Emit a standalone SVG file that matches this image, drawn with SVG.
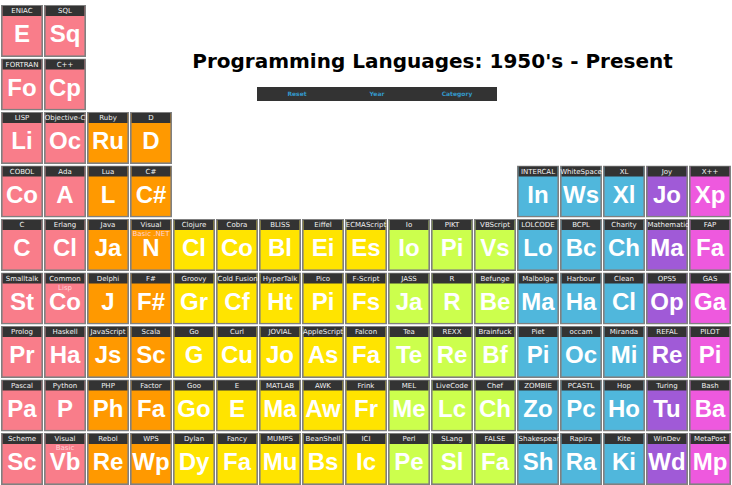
<svg xmlns="http://www.w3.org/2000/svg" width="732" height="485" viewBox="0 0 732 485">
<style>
.bg{fill:#ffffff}
.b{stroke:#808080;stroke-width:1.6}
.h{fill:#333333}
.n{font-family:"DejaVu Sans",Verdana,sans-serif;font-size:7px;fill:#f2f2f2;text-anchor:middle}
.nl{text-anchor:start}
.sub{font-family:"DejaVu Sans",Verdana,sans-serif;font-size:7px;fill:#ffd3d8;text-anchor:middle}
.s{font-family:"Liberation Sans",Arial,sans-serif;font-weight:bold;font-size:24px;fill:#ffffff;text-anchor:middle}
.pk{fill:#f97d8a}.or{fill:#ff9900}.ye{fill:#ffe400}.li{fill:#ccff4d}.bl{fill:#50b7dc}.pu{fill:#a05ad7}.mg{fill:#ee59de}
.title{font-family:"DejaVu Sans",Verdana,sans-serif;font-weight:bold;font-size:20px;fill:#000;text-anchor:middle}
.btn{font-family:"DejaVu Sans",Verdana,sans-serif;font-weight:bold;font-size:6px;fill:#3399cc;text-anchor:middle}
</style>
<defs>
<clipPath id="cc"><rect x="0" y="0" width="42" height="52"/></clipPath>
</defs>
<rect class="bg" x="0" y="0" width="732" height="485"/>
<g id="title"><text class="title" x="432.5" y="67.5">Programming Languages: 1950's - Present</text></g>
<g id="menu">
<rect x="257" y="87" width="240" height="14" fill="#333333"/>
<text class="btn" x="297" y="96">Reset</text>
<text class="btn" x="377" y="96">Year</text>
<text class="btn" x="457" y="96">Category</text>
</g>
<g id="connectors"></g>
<!-- row 0 -->
<g id="eniac" transform="translate(1,5)" clip-path="url(#cc)"><rect class="b pk" x="0.8" y="0.8" width="40.4" height="50.4"/><rect class="h" x="1.6" y="1" width="38.8" height="10"/><text class="n" x="21" y="8">ENIAC</text><text class="s" x="21" y="37">E</text></g>
<g id="sql" transform="translate(44,5)" clip-path="url(#cc)"><rect class="b pk" x="0.8" y="0.8" width="40.4" height="50.4"/><rect class="h" x="1.6" y="1" width="38.8" height="10"/><text class="n" x="21" y="8">SQL</text><text class="s" x="21" y="37">Sq</text></g>
<!-- row 1 -->
<g id="fortran" transform="translate(1,58.5)" clip-path="url(#cc)"><rect class="b pk" x="0.8" y="0.8" width="40.4" height="50.4"/><rect class="h" x="1.6" y="1" width="38.8" height="10"/><text class="n" x="21" y="8">FORTRAN</text><text class="s" x="21" y="37">Fo</text></g>
<g id="cpp" transform="translate(44,58.5)" clip-path="url(#cc)"><rect class="b pk" x="0.8" y="0.8" width="40.4" height="50.4"/><rect class="h" x="1.6" y="1" width="38.8" height="10"/><text class="n" x="21" y="8">C++</text><text class="s" x="21" y="37">Cp</text></g>
<!-- row 2 -->
<g id="lisp" transform="translate(1,112)" clip-path="url(#cc)"><rect class="b pk" x="0.8" y="0.8" width="40.4" height="50.4"/><rect class="h" x="1.6" y="1" width="38.8" height="10"/><text class="n" x="21" y="8">LISP</text><text class="s" x="21" y="37">Li</text></g>
<g id="objc" transform="translate(44,112)" clip-path="url(#cc)"><rect class="b pk" x="0.8" y="0.8" width="40.4" height="50.4"/><rect class="h" x="1.6" y="1" width="38.8" height="10"/><text class="n" x="21" y="8">Objective-C</text><text class="s" x="21" y="37">Oc</text></g>
<g id="ruby" transform="translate(87,112)" clip-path="url(#cc)"><rect class="b or" x="0.8" y="0.8" width="40.4" height="50.4"/><rect class="h" x="1.6" y="1" width="38.8" height="10"/><text class="n" x="21" y="8">Ruby</text><text class="s" x="21" y="37">Ru</text></g>
<g id="d" transform="translate(130,112)" clip-path="url(#cc)"><rect class="b or" x="0.8" y="0.8" width="40.4" height="50.4"/><rect class="h" x="1.6" y="1" width="38.8" height="10"/><text class="n" x="21" y="8">D</text><text class="s" x="21" y="37">D</text></g>
<!-- row 3 -->
<g id="cobol" transform="translate(1,165.5)" clip-path="url(#cc)"><rect class="b pk" x="0.8" y="0.8" width="40.4" height="50.4"/><rect class="h" x="1.6" y="1" width="38.8" height="10"/><text class="n" x="21" y="8">COBOL</text><text class="s" x="21" y="37">Co</text></g>
<g id="ada" transform="translate(44,165.5)" clip-path="url(#cc)"><rect class="b pk" x="0.8" y="0.8" width="40.4" height="50.4"/><rect class="h" x="1.6" y="1" width="38.8" height="10"/><text class="n" x="21" y="8">Ada</text><text class="s" x="21" y="37">A</text></g>
<g id="lua" transform="translate(87,165.5)" clip-path="url(#cc)"><rect class="b or" x="0.8" y="0.8" width="40.4" height="50.4"/><rect class="h" x="1.6" y="1" width="38.8" height="10"/><text class="n" x="21" y="8">Lua</text><text class="s" x="21" y="37">L</text></g>
<g id="csharp" transform="translate(130,165.5)" clip-path="url(#cc)"><rect class="b or" x="0.8" y="0.8" width="40.4" height="50.4"/><rect class="h" x="1.6" y="1" width="38.8" height="10"/><text class="n" x="21" y="8">C#</text><text class="s" x="21" y="37">C#</text></g>
<g id="intercal" transform="translate(517,165.5)" clip-path="url(#cc)"><rect class="b bl" x="0.8" y="0.8" width="40.4" height="50.4"/><rect class="h" x="1.6" y="1" width="38.8" height="10"/><text class="n" x="21" y="8">INTERCAL</text><text class="s" x="21" y="37">In</text></g>
<g id="whitespace" transform="translate(560,165.5)" clip-path="url(#cc)"><rect class="b bl" x="0.8" y="0.8" width="40.4" height="50.4"/><rect class="h" x="1.6" y="1" width="38.8" height="10"/><text class="n" x="21" y="8">WhiteSpace</text><text class="s" x="21" y="37">Ws</text></g>
<g id="xl" transform="translate(603,165.5)" clip-path="url(#cc)"><rect class="b bl" x="0.8" y="0.8" width="40.4" height="50.4"/><rect class="h" x="1.6" y="1" width="38.8" height="10"/><text class="n" x="21" y="8">XL</text><text class="s" x="21" y="37">Xl</text></g>
<g id="joy" transform="translate(646,165.5)" clip-path="url(#cc)"><rect class="b pu" x="0.8" y="0.8" width="40.4" height="50.4"/><rect class="h" x="1.6" y="1" width="38.8" height="10"/><text class="n" x="21" y="8">Joy</text><text class="s" x="21" y="37">Jo</text></g>
<g id="xpp" transform="translate(689,165.5)" clip-path="url(#cc)"><rect class="b mg" x="0.8" y="0.8" width="40.4" height="50.4"/><rect class="h" x="1.6" y="1" width="38.8" height="10"/><text class="n" x="21" y="8">X++</text><text class="s" x="21" y="37">Xp</text></g>
<!-- row 4 -->
<g id="c" transform="translate(1,219)" clip-path="url(#cc)"><rect class="b pk" x="0.8" y="0.8" width="40.4" height="50.4"/><rect class="h" x="1.6" y="1" width="38.8" height="10"/><text class="n" x="21" y="8">C</text><text class="s" x="21" y="37">C</text></g>
<g id="erlang" transform="translate(44,219)" clip-path="url(#cc)"><rect class="b pk" x="0.8" y="0.8" width="40.4" height="50.4"/><rect class="h" x="1.6" y="1" width="38.8" height="10"/><text class="n" x="21" y="8">Erlang</text><text class="s" x="21" y="37">Cl</text></g>
<g id="java" transform="translate(87,219)" clip-path="url(#cc)"><rect class="b or" x="0.8" y="0.8" width="40.4" height="50.4"/><rect class="h" x="1.6" y="1" width="38.8" height="10"/><text class="n" x="21" y="8">Java</text><text class="s" x="21" y="37">Ja</text></g>
<g id="vbnet" transform="translate(130,219)" clip-path="url(#cc)"><rect class="b or" x="0.8" y="0.8" width="40.4" height="50.4"/><rect class="h" x="1.6" y="1" width="38.8" height="10"/><text class="n" x="21" y="8">Visual</text><text class="sub" x="21" y="17">Basic .NET</text><text class="s" x="21" y="37">N</text></g>
<g id="clojure" transform="translate(173,219)" clip-path="url(#cc)"><rect class="b ye" x="0.8" y="0.8" width="40.4" height="50.4"/><rect class="h" x="1.6" y="1" width="38.8" height="10"/><text class="n" x="21" y="8">Clojure</text><text class="s" x="21" y="37">Cl</text></g>
<g id="cobra" transform="translate(216,219)" clip-path="url(#cc)"><rect class="b ye" x="0.8" y="0.8" width="40.4" height="50.4"/><rect class="h" x="1.6" y="1" width="38.8" height="10"/><text class="n" x="21" y="8">Cobra</text><text class="s" x="21" y="37">Co</text></g>
<g id="bliss" transform="translate(259,219)" clip-path="url(#cc)"><rect class="b ye" x="0.8" y="0.8" width="40.4" height="50.4"/><rect class="h" x="1.6" y="1" width="38.8" height="10"/><text class="n" x="21" y="8">BLISS</text><text class="s" x="21" y="37">Bl</text></g>
<g id="eiffel" transform="translate(302,219)" clip-path="url(#cc)"><rect class="b ye" x="0.8" y="0.8" width="40.4" height="50.4"/><rect class="h" x="1.6" y="1" width="38.8" height="10"/><text class="n" x="21" y="8">Eiffel</text><text class="s" x="21" y="37">Ei</text></g>
<g id="ecmascript" transform="translate(345,219)" clip-path="url(#cc)"><rect class="b ye" x="0.8" y="0.8" width="40.4" height="50.4"/><rect class="h" x="1.6" y="1" width="38.8" height="10"/><text class="n" x="21" y="8">ECMAScript</text><text class="s" x="21" y="37">Es</text></g>
<g id="io" transform="translate(388,219)" clip-path="url(#cc)"><rect class="b li" x="0.8" y="0.8" width="40.4" height="50.4"/><rect class="h" x="1.6" y="1" width="38.8" height="10"/><text class="n" x="21" y="8">Io</text><text class="s" x="21" y="37">Io</text></g>
<g id="pikt" transform="translate(431,219)" clip-path="url(#cc)"><rect class="b li" x="0.8" y="0.8" width="40.4" height="50.4"/><rect class="h" x="1.6" y="1" width="38.8" height="10"/><text class="n" x="21" y="8">PIKT</text><text class="s" x="21" y="37">Pi</text></g>
<g id="vbscript" transform="translate(474,219)" clip-path="url(#cc)"><rect class="b li" x="0.8" y="0.8" width="40.4" height="50.4"/><rect class="h" x="1.6" y="1" width="38.8" height="10"/><text class="n" x="21" y="8">VBScript</text><text class="s" x="21" y="37">Vs</text></g>
<g id="lolcode" transform="translate(517,219)" clip-path="url(#cc)"><rect class="b bl" x="0.8" y="0.8" width="40.4" height="50.4"/><rect class="h" x="1.6" y="1" width="38.8" height="10"/><text class="n" x="21" y="8">LOLCODE</text><text class="s" x="21" y="37">Lo</text></g>
<g id="bcpl" transform="translate(560,219)" clip-path="url(#cc)"><rect class="b bl" x="0.8" y="0.8" width="40.4" height="50.4"/><rect class="h" x="1.6" y="1" width="38.8" height="10"/><text class="n" x="21" y="8">BCPL</text><text class="s" x="21" y="37">Bc</text></g>
<g id="charity" transform="translate(603,219)" clip-path="url(#cc)"><rect class="b bl" x="0.8" y="0.8" width="40.4" height="50.4"/><rect class="h" x="1.6" y="1" width="38.8" height="10"/><text class="n" x="21" y="8">Charity</text><text class="s" x="21" y="37">Ch</text></g>
<g id="mathematica" transform="translate(646,219)" clip-path="url(#cc)"><rect class="b pu" x="0.8" y="0.8" width="40.4" height="50.4"/><rect class="h" x="1.6" y="1" width="38.8" height="10"/><text class="n nl" x="1.5" y="8">Mathematica</text><text class="s" x="21" y="37">Ma</text></g>
<g id="fap" transform="translate(689,219)" clip-path="url(#cc)"><rect class="b mg" x="0.8" y="0.8" width="40.4" height="50.4"/><rect class="h" x="1.6" y="1" width="38.8" height="10"/><text class="n" x="21" y="8">FAP</text><text class="s" x="21" y="37">Fa</text></g>
<!-- row 5 -->
<g id="smalltalk" transform="translate(1,272.5)" clip-path="url(#cc)"><rect class="b pk" x="0.8" y="0.8" width="40.4" height="50.4"/><rect class="h" x="1.6" y="1" width="38.8" height="10"/><text class="n" x="21" y="8">Smalltalk</text><text class="s" x="21" y="37">St</text></g>
<g id="commonlisp" transform="translate(44,272.5)" clip-path="url(#cc)"><rect class="b pk" x="0.8" y="0.8" width="40.4" height="50.4"/><rect class="h" x="1.6" y="1" width="38.8" height="10"/><text class="n" x="21" y="8">Common</text><text class="sub" x="21" y="17">Lisp</text><text class="s" x="21" y="37">Co</text></g>
<g id="delphi" transform="translate(87,272.5)" clip-path="url(#cc)"><rect class="b or" x="0.8" y="0.8" width="40.4" height="50.4"/><rect class="h" x="1.6" y="1" width="38.8" height="10"/><text class="n" x="21" y="8">Delphi</text><text class="s" x="21" y="37">J</text></g>
<g id="fsharp" transform="translate(130,272.5)" clip-path="url(#cc)"><rect class="b or" x="0.8" y="0.8" width="40.4" height="50.4"/><rect class="h" x="1.6" y="1" width="38.8" height="10"/><text class="n" x="21" y="8">F#</text><text class="s" x="21" y="37">F#</text></g>
<g id="groovy" transform="translate(173,272.5)" clip-path="url(#cc)"><rect class="b ye" x="0.8" y="0.8" width="40.4" height="50.4"/><rect class="h" x="1.6" y="1" width="38.8" height="10"/><text class="n" x="21" y="8">Groovy</text><text class="s" x="21" y="37">Gr</text></g>
<g id="coldfusion" transform="translate(216,272.5)" clip-path="url(#cc)"><rect class="b ye" x="0.8" y="0.8" width="40.4" height="50.4"/><rect class="h" x="1.6" y="1" width="38.8" height="10"/><text class="n nl" x="1.5" y="8">Cold Fusion</text><text class="s" x="21" y="37">Cf</text></g>
<g id="hypertalk" transform="translate(259,272.5)" clip-path="url(#cc)"><rect class="b ye" x="0.8" y="0.8" width="40.4" height="50.4"/><rect class="h" x="1.6" y="1" width="38.8" height="10"/><text class="n" x="21" y="8">HyperTalk</text><text class="s" x="21" y="37">Ht</text></g>
<g id="pico" transform="translate(302,272.5)" clip-path="url(#cc)"><rect class="b ye" x="0.8" y="0.8" width="40.4" height="50.4"/><rect class="h" x="1.6" y="1" width="38.8" height="10"/><text class="n" x="21" y="8">Pico</text><text class="s" x="21" y="37">Pi</text></g>
<g id="fscript" transform="translate(345,272.5)" clip-path="url(#cc)"><rect class="b ye" x="0.8" y="0.8" width="40.4" height="50.4"/><rect class="h" x="1.6" y="1" width="38.8" height="10"/><text class="n" x="21" y="8">F-Script</text><text class="s" x="21" y="37">Fs</text></g>
<g id="jass" transform="translate(388,272.5)" clip-path="url(#cc)"><rect class="b li" x="0.8" y="0.8" width="40.4" height="50.4"/><rect class="h" x="1.6" y="1" width="38.8" height="10"/><text class="n" x="21" y="8">JASS</text><text class="s" x="21" y="37">Ja</text></g>
<g id="r" transform="translate(431,272.5)" clip-path="url(#cc)"><rect class="b li" x="0.8" y="0.8" width="40.4" height="50.4"/><rect class="h" x="1.6" y="1" width="38.8" height="10"/><text class="n" x="21" y="8">R</text><text class="s" x="21" y="37">R</text></g>
<g id="befunge" transform="translate(474,272.5)" clip-path="url(#cc)"><rect class="b li" x="0.8" y="0.8" width="40.4" height="50.4"/><rect class="h" x="1.6" y="1" width="38.8" height="10"/><text class="n" x="21" y="8">Befunge</text><text class="s" x="21" y="37">Be</text></g>
<g id="malbolge" transform="translate(517,272.5)" clip-path="url(#cc)"><rect class="b bl" x="0.8" y="0.8" width="40.4" height="50.4"/><rect class="h" x="1.6" y="1" width="38.8" height="10"/><text class="n" x="21" y="8">Malbolge</text><text class="s" x="21" y="37">Ma</text></g>
<g id="harbour" transform="translate(560,272.5)" clip-path="url(#cc)"><rect class="b bl" x="0.8" y="0.8" width="40.4" height="50.4"/><rect class="h" x="1.6" y="1" width="38.8" height="10"/><text class="n" x="21" y="8">Harbour</text><text class="s" x="21" y="37">Ha</text></g>
<g id="clean" transform="translate(603,272.5)" clip-path="url(#cc)"><rect class="b bl" x="0.8" y="0.8" width="40.4" height="50.4"/><rect class="h" x="1.6" y="1" width="38.8" height="10"/><text class="n" x="21" y="8">Clean</text><text class="s" x="21" y="37">Cl</text></g>
<g id="ops5" transform="translate(646,272.5)" clip-path="url(#cc)"><rect class="b pu" x="0.8" y="0.8" width="40.4" height="50.4"/><rect class="h" x="1.6" y="1" width="38.8" height="10"/><text class="n" x="21" y="8">OPS5</text><text class="s" x="21" y="37">Op</text></g>
<g id="gas" transform="translate(689,272.5)" clip-path="url(#cc)"><rect class="b mg" x="0.8" y="0.8" width="40.4" height="50.4"/><rect class="h" x="1.6" y="1" width="38.8" height="10"/><text class="n" x="21" y="8">GAS</text><text class="s" x="21" y="37">Ga</text></g>
<!-- row 6 -->
<g id="prolog" transform="translate(1,326)" clip-path="url(#cc)"><rect class="b pk" x="0.8" y="0.8" width="40.4" height="50.4"/><rect class="h" x="1.6" y="1" width="38.8" height="10"/><text class="n" x="21" y="8">Prolog</text><text class="s" x="21" y="37">Pr</text></g>
<g id="haskell" transform="translate(44,326)" clip-path="url(#cc)"><rect class="b pk" x="0.8" y="0.8" width="40.4" height="50.4"/><rect class="h" x="1.6" y="1" width="38.8" height="10"/><text class="n" x="21" y="8">Haskell</text><text class="s" x="21" y="37">Ha</text></g>
<g id="javascript" transform="translate(87,326)" clip-path="url(#cc)"><rect class="b or" x="0.8" y="0.8" width="40.4" height="50.4"/><rect class="h" x="1.6" y="1" width="38.8" height="10"/><text class="n" x="21" y="8">JavaScript</text><text class="s" x="21" y="37">Js</text></g>
<g id="scala" transform="translate(130,326)" clip-path="url(#cc)"><rect class="b or" x="0.8" y="0.8" width="40.4" height="50.4"/><rect class="h" x="1.6" y="1" width="38.8" height="10"/><text class="n" x="21" y="8">Scala</text><text class="s" x="21" y="37">Sc</text></g>
<g id="go" transform="translate(173,326)" clip-path="url(#cc)"><rect class="b ye" x="0.8" y="0.8" width="40.4" height="50.4"/><rect class="h" x="1.6" y="1" width="38.8" height="10"/><text class="n" x="21" y="8">Go</text><text class="s" x="21" y="37">G</text></g>
<g id="curl" transform="translate(216,326)" clip-path="url(#cc)"><rect class="b ye" x="0.8" y="0.8" width="40.4" height="50.4"/><rect class="h" x="1.6" y="1" width="38.8" height="10"/><text class="n" x="21" y="8">Curl</text><text class="s" x="21" y="37">Cu</text></g>
<g id="jovial" transform="translate(259,326)" clip-path="url(#cc)"><rect class="b ye" x="0.8" y="0.8" width="40.4" height="50.4"/><rect class="h" x="1.6" y="1" width="38.8" height="10"/><text class="n" x="21" y="8">JOVIAL</text><text class="s" x="21" y="37">Jo</text></g>
<g id="applescript" transform="translate(302,326)" clip-path="url(#cc)"><rect class="b ye" x="0.8" y="0.8" width="40.4" height="50.4"/><rect class="h" x="1.6" y="1" width="38.8" height="10"/><text class="n" x="21" y="8">AppleScript</text><text class="s" x="21" y="37">As</text></g>
<g id="falcon" transform="translate(345,326)" clip-path="url(#cc)"><rect class="b ye" x="0.8" y="0.8" width="40.4" height="50.4"/><rect class="h" x="1.6" y="1" width="38.8" height="10"/><text class="n" x="21" y="8">Falcon</text><text class="s" x="21" y="37">Fa</text></g>
<g id="tea" transform="translate(388,326)" clip-path="url(#cc)"><rect class="b li" x="0.8" y="0.8" width="40.4" height="50.4"/><rect class="h" x="1.6" y="1" width="38.8" height="10"/><text class="n" x="21" y="8">Tea</text><text class="s" x="21" y="37">Te</text></g>
<g id="rexx" transform="translate(431,326)" clip-path="url(#cc)"><rect class="b li" x="0.8" y="0.8" width="40.4" height="50.4"/><rect class="h" x="1.6" y="1" width="38.8" height="10"/><text class="n" x="21" y="8">REXX</text><text class="s" x="21" y="37">Re</text></g>
<g id="brainfuck" transform="translate(474,326)" clip-path="url(#cc)"><rect class="b li" x="0.8" y="0.8" width="40.4" height="50.4"/><rect class="h" x="1.6" y="1" width="38.8" height="10"/><text class="n" x="21" y="8">Brainfuck</text><text class="s" x="21" y="37">Bf</text></g>
<g id="piet" transform="translate(517,326)" clip-path="url(#cc)"><rect class="b bl" x="0.8" y="0.8" width="40.4" height="50.4"/><rect class="h" x="1.6" y="1" width="38.8" height="10"/><text class="n" x="21" y="8">Piet</text><text class="s" x="21" y="37">Pi</text></g>
<g id="occam" transform="translate(560,326)" clip-path="url(#cc)"><rect class="b bl" x="0.8" y="0.8" width="40.4" height="50.4"/><rect class="h" x="1.6" y="1" width="38.8" height="10"/><text class="n" x="21" y="8">occam</text><text class="s" x="21" y="37">Oc</text></g>
<g id="miranda" transform="translate(603,326)" clip-path="url(#cc)"><rect class="b bl" x="0.8" y="0.8" width="40.4" height="50.4"/><rect class="h" x="1.6" y="1" width="38.8" height="10"/><text class="n" x="21" y="8">Miranda</text><text class="s" x="21" y="37">Mi</text></g>
<g id="refal" transform="translate(646,326)" clip-path="url(#cc)"><rect class="b pu" x="0.8" y="0.8" width="40.4" height="50.4"/><rect class="h" x="1.6" y="1" width="38.8" height="10"/><text class="n" x="21" y="8">REFAL</text><text class="s" x="21" y="37">Re</text></g>
<g id="pilot" transform="translate(689,326)" clip-path="url(#cc)"><rect class="b mg" x="0.8" y="0.8" width="40.4" height="50.4"/><rect class="h" x="1.6" y="1" width="38.8" height="10"/><text class="n" x="21" y="8">PILOT</text><text class="s" x="21" y="37">Pi</text></g>
<!-- row 7 -->
<g id="pascal" transform="translate(1,379.5)" clip-path="url(#cc)"><rect class="b pk" x="0.8" y="0.8" width="40.4" height="50.4"/><rect class="h" x="1.6" y="1" width="38.8" height="10"/><text class="n" x="21" y="8">Pascal</text><text class="s" x="21" y="37">Pa</text></g>
<g id="python" transform="translate(44,379.5)" clip-path="url(#cc)"><rect class="b pk" x="0.8" y="0.8" width="40.4" height="50.4"/><rect class="h" x="1.6" y="1" width="38.8" height="10"/><text class="n" x="21" y="8">Python</text><text class="s" x="21" y="37">P</text></g>
<g id="php" transform="translate(87,379.5)" clip-path="url(#cc)"><rect class="b or" x="0.8" y="0.8" width="40.4" height="50.4"/><rect class="h" x="1.6" y="1" width="38.8" height="10"/><text class="n" x="21" y="8">PHP</text><text class="s" x="21" y="37">Ph</text></g>
<g id="factor" transform="translate(130,379.5)" clip-path="url(#cc)"><rect class="b or" x="0.8" y="0.8" width="40.4" height="50.4"/><rect class="h" x="1.6" y="1" width="38.8" height="10"/><text class="n" x="21" y="8">Factor</text><text class="s" x="21" y="37">Fa</text></g>
<g id="goo" transform="translate(173,379.5)" clip-path="url(#cc)"><rect class="b ye" x="0.8" y="0.8" width="40.4" height="50.4"/><rect class="h" x="1.6" y="1" width="38.8" height="10"/><text class="n" x="21" y="8">Goo</text><text class="s" x="21" y="37">Go</text></g>
<g id="e" transform="translate(216,379.5)" clip-path="url(#cc)"><rect class="b ye" x="0.8" y="0.8" width="40.4" height="50.4"/><rect class="h" x="1.6" y="1" width="38.8" height="10"/><text class="n" x="21" y="8">E</text><text class="s" x="21" y="37">E</text></g>
<g id="matlab" transform="translate(259,379.5)" clip-path="url(#cc)"><rect class="b ye" x="0.8" y="0.8" width="40.4" height="50.4"/><rect class="h" x="1.6" y="1" width="38.8" height="10"/><text class="n" x="21" y="8">MATLAB</text><text class="s" x="21" y="37">Ma</text></g>
<g id="awk" transform="translate(302,379.5)" clip-path="url(#cc)"><rect class="b ye" x="0.8" y="0.8" width="40.4" height="50.4"/><rect class="h" x="1.6" y="1" width="38.8" height="10"/><text class="n" x="21" y="8">AWK</text><text class="s" x="21" y="37">Aw</text></g>
<g id="frink" transform="translate(345,379.5)" clip-path="url(#cc)"><rect class="b ye" x="0.8" y="0.8" width="40.4" height="50.4"/><rect class="h" x="1.6" y="1" width="38.8" height="10"/><text class="n" x="21" y="8">Frink</text><text class="s" x="21" y="37">Fr</text></g>
<g id="mel" transform="translate(388,379.5)" clip-path="url(#cc)"><rect class="b li" x="0.8" y="0.8" width="40.4" height="50.4"/><rect class="h" x="1.6" y="1" width="38.8" height="10"/><text class="n" x="21" y="8">MEL</text><text class="s" x="21" y="37">Me</text></g>
<g id="livecode" transform="translate(431,379.5)" clip-path="url(#cc)"><rect class="b li" x="0.8" y="0.8" width="40.4" height="50.4"/><rect class="h" x="1.6" y="1" width="38.8" height="10"/><text class="n" x="21" y="8">LiveCode</text><text class="s" x="21" y="37">Lc</text></g>
<g id="chef" transform="translate(474,379.5)" clip-path="url(#cc)"><rect class="b li" x="0.8" y="0.8" width="40.4" height="50.4"/><rect class="h" x="1.6" y="1" width="38.8" height="10"/><text class="n" x="21" y="8">Chef</text><text class="s" x="21" y="37">Ch</text></g>
<g id="zombie" transform="translate(517,379.5)" clip-path="url(#cc)"><rect class="b bl" x="0.8" y="0.8" width="40.4" height="50.4"/><rect class="h" x="1.6" y="1" width="38.8" height="10"/><text class="n" x="21" y="8">ZOMBIE</text><text class="s" x="21" y="37">Zo</text></g>
<g id="pcastl" transform="translate(560,379.5)" clip-path="url(#cc)"><rect class="b bl" x="0.8" y="0.8" width="40.4" height="50.4"/><rect class="h" x="1.6" y="1" width="38.8" height="10"/><text class="n" x="21" y="8">PCASTL</text><text class="s" x="21" y="37">Pc</text></g>
<g id="hop" transform="translate(603,379.5)" clip-path="url(#cc)"><rect class="b bl" x="0.8" y="0.8" width="40.4" height="50.4"/><rect class="h" x="1.6" y="1" width="38.8" height="10"/><text class="n" x="21" y="8">Hop</text><text class="s" x="21" y="37">Ho</text></g>
<g id="turing" transform="translate(646,379.5)" clip-path="url(#cc)"><rect class="b pu" x="0.8" y="0.8" width="40.4" height="50.4"/><rect class="h" x="1.6" y="1" width="38.8" height="10"/><text class="n" x="21" y="8">Turing</text><text class="s" x="21" y="37">Tu</text></g>
<g id="bash" transform="translate(689,379.5)" clip-path="url(#cc)"><rect class="b mg" x="0.8" y="0.8" width="40.4" height="50.4"/><rect class="h" x="1.6" y="1" width="38.8" height="10"/><text class="n" x="21" y="8">Bash</text><text class="s" x="21" y="37">Ba</text></g>
<!-- row 8 -->
<g id="scheme" transform="translate(1,433)" clip-path="url(#cc)"><rect class="b pk" x="0.8" y="0.8" width="40.4" height="50.4"/><rect class="h" x="1.6" y="1" width="38.8" height="10"/><text class="n" x="21" y="8">Scheme</text><text class="s" x="21" y="37">Sc</text></g>
<g id="visualbasic" transform="translate(44,433)" clip-path="url(#cc)"><rect class="b pk" x="0.8" y="0.8" width="40.4" height="50.4"/><rect class="h" x="1.6" y="1" width="38.8" height="10"/><text class="n" x="21" y="8">Visual</text><text class="sub" x="21" y="17">Basic</text><text class="s" x="21" y="37">Vb</text></g>
<g id="rebol" transform="translate(87,433)" clip-path="url(#cc)"><rect class="b or" x="0.8" y="0.8" width="40.4" height="50.4"/><rect class="h" x="1.6" y="1" width="38.8" height="10"/><text class="n" x="21" y="8">Rebol</text><text class="s" x="21" y="37">Re</text></g>
<g id="wps" transform="translate(130,433)" clip-path="url(#cc)"><rect class="b or" x="0.8" y="0.8" width="40.4" height="50.4"/><rect class="h" x="1.6" y="1" width="38.8" height="10"/><text class="n" x="21" y="8">WPS</text><text class="s" x="21" y="37">Wp</text></g>
<g id="dylan" transform="translate(173,433)" clip-path="url(#cc)"><rect class="b ye" x="0.8" y="0.8" width="40.4" height="50.4"/><rect class="h" x="1.6" y="1" width="38.8" height="10"/><text class="n" x="21" y="8">Dylan</text><text class="s" x="21" y="37">Dy</text></g>
<g id="fancy" transform="translate(216,433)" clip-path="url(#cc)"><rect class="b ye" x="0.8" y="0.8" width="40.4" height="50.4"/><rect class="h" x="1.6" y="1" width="38.8" height="10"/><text class="n" x="21" y="8">Fancy</text><text class="s" x="21" y="37">Fa</text></g>
<g id="mumps" transform="translate(259,433)" clip-path="url(#cc)"><rect class="b ye" x="0.8" y="0.8" width="40.4" height="50.4"/><rect class="h" x="1.6" y="1" width="38.8" height="10"/><text class="n" x="21" y="8">MUMPS</text><text class="s" x="21" y="37">Mu</text></g>
<g id="beanshell" transform="translate(302,433)" clip-path="url(#cc)"><rect class="b ye" x="0.8" y="0.8" width="40.4" height="50.4"/><rect class="h" x="1.6" y="1" width="38.8" height="10"/><text class="n" x="21" y="8">BeanShell</text><text class="s" x="21" y="37">Bs</text></g>
<g id="ici" transform="translate(345,433)" clip-path="url(#cc)"><rect class="b ye" x="0.8" y="0.8" width="40.4" height="50.4"/><rect class="h" x="1.6" y="1" width="38.8" height="10"/><text class="n" x="21" y="8">ICI</text><text class="s" x="21" y="37">Ic</text></g>
<g id="perl" transform="translate(388,433)" clip-path="url(#cc)"><rect class="b li" x="0.8" y="0.8" width="40.4" height="50.4"/><rect class="h" x="1.6" y="1" width="38.8" height="10"/><text class="n" x="21" y="8">Perl</text><text class="s" x="21" y="37">Pe</text></g>
<g id="slang" transform="translate(431,433)" clip-path="url(#cc)"><rect class="b li" x="0.8" y="0.8" width="40.4" height="50.4"/><rect class="h" x="1.6" y="1" width="38.8" height="10"/><text class="n" x="21" y="8">SLang</text><text class="s" x="21" y="37">Sl</text></g>
<g id="false" transform="translate(474,433)" clip-path="url(#cc)"><rect class="b li" x="0.8" y="0.8" width="40.4" height="50.4"/><rect class="h" x="1.6" y="1" width="38.8" height="10"/><text class="n" x="21" y="8">FALSE</text><text class="s" x="21" y="37">Fa</text></g>
<g id="shakespeare" transform="translate(517,433)" clip-path="url(#cc)"><rect class="b bl" x="0.8" y="0.8" width="40.4" height="50.4"/><rect class="h" x="1.6" y="1" width="38.8" height="10"/><text class="n nl" x="1.5" y="8">Shakespeare</text><text class="s" x="21" y="37">Sh</text></g>
<g id="rapira" transform="translate(560,433)" clip-path="url(#cc)"><rect class="b bl" x="0.8" y="0.8" width="40.4" height="50.4"/><rect class="h" x="1.6" y="1" width="38.8" height="10"/><text class="n" x="21" y="8">Rapira</text><text class="s" x="21" y="37">Ra</text></g>
<g id="kite" transform="translate(603,433)" clip-path="url(#cc)"><rect class="b bl" x="0.8" y="0.8" width="40.4" height="50.4"/><rect class="h" x="1.6" y="1" width="38.8" height="10"/><text class="n" x="21" y="8">Kite</text><text class="s" x="21" y="37">Ki</text></g>
<g id="windev" transform="translate(646,433)" clip-path="url(#cc)"><rect class="b pu" x="0.8" y="0.8" width="40.4" height="50.4"/><rect class="h" x="1.6" y="1" width="38.8" height="10"/><text class="n" x="21" y="8">WinDev</text><text class="s" x="21" y="37">Wd</text></g>
<g id="metapost" transform="translate(689,433)" clip-path="url(#cc)"><rect class="b mg" x="0.8" y="0.8" width="40.4" height="50.4"/><rect class="h" x="1.6" y="1" width="38.8" height="10"/><text class="n" x="21" y="8">MetaPost</text><text class="s" x="21" y="37">Mp</text></g>
</svg>
